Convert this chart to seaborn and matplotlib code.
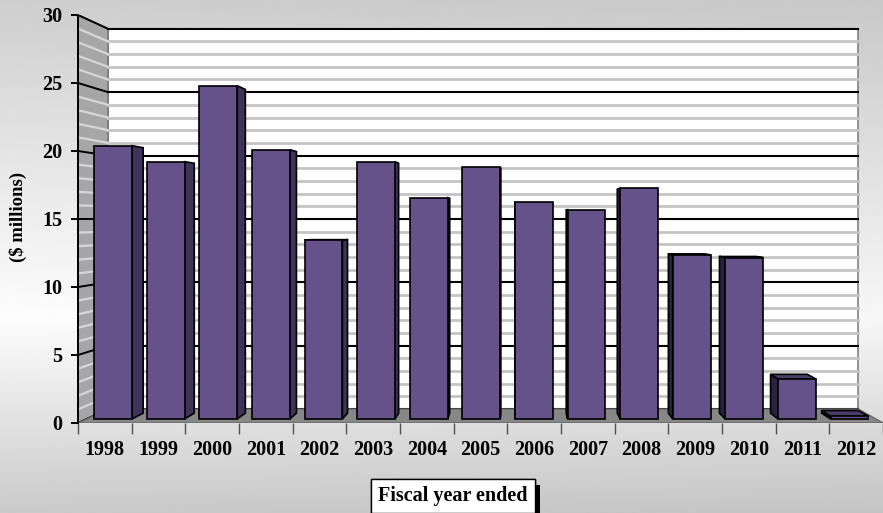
import numpy as np
import pandas as pd
import matplotlib
matplotlib.use('Agg')
import matplotlib.pyplot as plt
import matplotlib.patheffects as pe
from matplotlib.patches import Polygon
import seaborn as sns

# values ($ millions)
years = ['1998', '1999', '2000', '2001', '2002', '2003', '2004', '2005',
         '2006', '2007', '2008', '2009', '2010', '2011', '2012']
amounts = [20.5, 19.3, 25.0, 20.2, 13.4, 19.3, 16.6, 18.9,
           16.3, 15.7, 17.3, 12.3, 12.1, 3.0, 0.2]
y_ticks = [0, 5, 10, 15, 20, 25, 30]

plt.rcParams['font.family'] = ['Liberation Serif', 'DejaVu Serif']
plt.rcParams['font.weight'] = 'bold'

front = '#66528a'
right_face = '#3f3359'
left_face = '#2b2142'
top_face = '#4a3b68'

W, H = 883, 513
fig = plt.figure(figsize=(W / 100, H / 100), dpi=100)

# grey gradient behind everything
bg = fig.add_axes([0, 0, 1, 1], zorder=-10)
t = np.linspace(0, 1, 256)[:, None]
s = np.linspace(0, 1, 256)[None, :]
shade = np.interp(t, [0, 0.62, 1], [200, 247, 196]) + 6 * (1 - s)
bg.imshow(shade, cmap='gray', vmin=0, vmax=255, aspect='auto', extent=[0, 1, 0, 1])
bg.axis('off')

ax = fig.add_axes([78 / W, (H - 423) / H, 805 / W, 408 / H])
ax.patch.set_visible(False)

df = pd.DataFrame({'year': years, 'amount': amounts})
sns.barplot(data=df, x='year', y='amount', color=front, saturation=1,
            width=0.72, edgecolor='black', linewidth=1.2, ax=ax, zorder=3)
bars = list(ax.patches)

# fake 3d: everything recedes toward a vanishing point
VX, VY = 7.74, 15.1
WALL, BAR0, BAR1 = 0.068, 0.02, 0.048


def recede(x, y, f):
    return (x + f * (VX - x), y + f * (VY - y))


x_lo, x_hi = -0.5, len(years) - 0.5
bx0, by0 = recede(x_lo, 0, WALL)
bx1, by1 = recede(x_hi, 30, WALL)

# back wall, side wall, floor
ax.add_patch(Polygon([(bx0, by0), (bx1, by0), (bx1, by1), (bx0, by1)],
                     fc='white', ec='#808080', lw=1.2, zorder=0))
ax.add_patch(Polygon([(x_lo, 0), (x_lo, 30), (bx0, by1), (bx0, by0)],
                     fc='#a6a6a6', ec='#707070', lw=1, zorder=0.5))
ax.add_patch(Polygon([(x_lo, 0), (x_hi, 0), (bx1, by0), (bx0, by0)],
                     fc='#878787', ec='#6a6a6a', lw=1, zorder=1))

for v in range(0, 31):
    yb = recede(0, v, WALL)[1]
    major = v % 5 == 0
    ax.plot([bx0, bx1], [yb, yb], color='black' if major else '#c4c4c4',
            lw=1.5 if major else 2, zorder=0.8 if major else 0.7)
    ax.plot([x_lo, bx0], [v, yb], color='black' if major else '#d6d6d6',
            lw=1.4 if major else 1.6, zorder=0.9)

for p in bars:
    x0, w, h = p.get_x(), p.get_width(), p.get_height()
    x1 = x0 + w
    fx0, fy0 = recede(x0, 0, BAR0)
    fx1, fy1 = recede(x1, h, BAR0)
    p.set_x(fx0)
    p.set_width(fx1 - fx0)
    p.set_y(fy0)
    p.set_height(fy1 - fy0)
    if x0 + w / 2 < VX:
        xe, col = x1, right_face
    else:
        xe, col = x0, left_face
    ax.add_patch(Polygon([recede(xe, 0, BAR0), recede(xe, h, BAR0),
                          recede(xe, h, BAR1), recede(xe, 0, BAR1)],
                         fc=col, ec='black', lw=1.2, zorder=2.8))
    if h < VY:
        ax.add_patch(Polygon([recede(x0, h, BAR0), recede(x1, h, BAR0),
                              recede(x1, h, BAR1), recede(x0, h, BAR1)],
                             fc=top_face, ec='black', lw=1.2, zorder=2.9))

ax.set_xlim(x_lo, x_hi)
ax.set_ylim(0, 30)
for side in ['top', 'right', 'bottom']:
    ax.spines[side].set_visible(False)
ax.spines['left'].set_linewidth(1.4)

ax.set_yticks(y_ticks)
ax.tick_params(axis='y', length=5, width=1.4, pad=6, labelsize=14.5)
ax.set_xticks(range(len(years)))
ax.set_xticklabels(years)
ax.tick_params(axis='x', length=0, pad=12, labelsize=14.5)
ax.set_xticks(np.arange(x_lo, x_hi + 0.5, 1), minor=True)
ax.tick_params(axis='x', which='minor', length=8, width=1, color='#505050')

ax.set_ylabel('($ millions)', fontsize=13.5, fontweight='bold')
ax.yaxis.set_label_coords(-0.063, 0.505)

ax.set_xlabel('Fiscal year ended', fontsize=14.5, fontweight='bold',
              bbox=dict(boxstyle='square,pad=0.35', fc='white', ec='black', lw=1))
ax.xaxis.set_label_coords(0.466, -0.155)
ax.xaxis.label.get_bbox_patch().set_path_effects(
    [pe.withSimplePatchShadow(offset=(4, -4), shadow_rgbFace='black', alpha=1.0), pe.Normal()])

fig.savefig('out.png', dpi=100)
